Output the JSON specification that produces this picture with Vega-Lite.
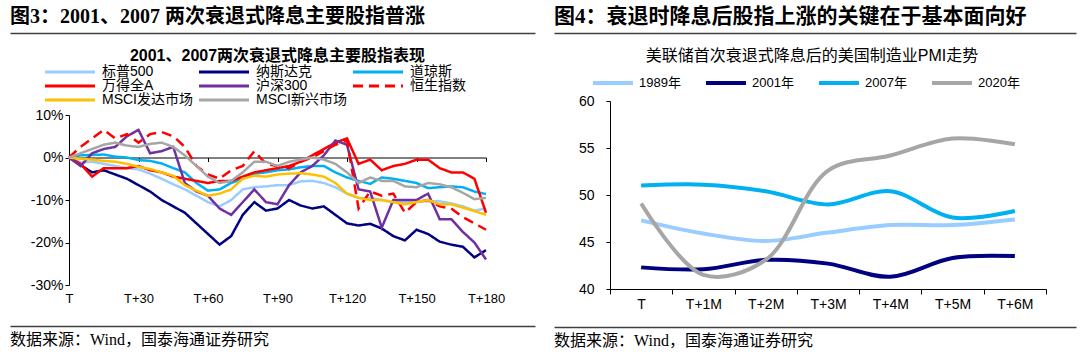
{
  "$schema": "https://vega.github.io/schema/vega-lite/v6.json",
  "background": "white",
  "padding": {"left": 10, "top": 6, "right": 0, "bottom": 0},
  "config": {
    "view": {"stroke": null},
    "font": "Liberation Sans, Noto Sans CJK SC",
    "axis": {"labelFont": "Liberation Sans, Noto Sans CJK SC", "labelColor": "#000", "domainColor": "#000", "tickColor": "#000", "grid": false},
    "legend": {"labelFont": "Liberation Sans, Noto Sans CJK SC", "labelColor": "#000"},
    "title": {"color": "#000"}
  },
  "datasets": {
    "one": [{"v": 0}],
    "stocks": [
      {"d":0,"标普500":0,"纳斯达克":0,"道琼斯":0,"万得全A":0,"沪深300":0,"恒生指数":0,"MSCI发达市场":0,"MSCI新兴市场":0},
      {"d":5,"标普500":-1.2,"纳斯达克":-1.8,"道琼斯":0.5,"万得全A":-1.5,"沪深300":-2.0,"恒生指数":2.5,"MSCI发达市场":-0.3,"MSCI新兴市场":1.0},
      {"d":10,"标普500":-1.0,"纳斯达克":-3.5,"道琼斯":0.6,"万得全A":-4.5,"沪深300":1.0,"恒生指数":4.5,"MSCI发达市场":-0.5,"MSCI新兴市场":2.0},
      {"d":15,"标普500":-1.5,"纳斯达克":-3.0,"道琼斯":0.7,"万得全A":-2.5,"沪深300":2.0,"恒生指数":6.5,"MSCI发达市场":-0.8,"MSCI新兴市场":3.0},
      {"d":20,"标普500":-2.0,"纳斯达克":-4.0,"道琼斯":0.2,"万得全A":-2.5,"沪深300":2.5,"恒生指数":4.5,"MSCI发达市场":-1.0,"MSCI新兴市场":3.5},
      {"d":25,"标普500":-2.5,"纳斯达克":-5.0,"道琼斯":0.0,"万得全A":-2.5,"沪深300":5.0,"恒生指数":5.5,"MSCI发达市场":-1.5,"MSCI新兴市场":2.8},
      {"d":30,"标普500":-2.8,"纳斯达克":-6.5,"道琼斯":-0.6,"万得全A":-2.0,"沪深300":6.5,"恒生指数":3.5,"MSCI发达市场":-2.2,"MSCI新兴市场":2.5},
      {"d":35,"标普500":-3.8,"纳斯达克":-8.0,"道琼斯":-0.8,"万得全A":-3.0,"沪深300":1.0,"恒生指数":5.5,"MSCI发达市场":-2.7,"MSCI新兴市场":3.2},
      {"d":40,"标普500":-5.0,"纳斯达克":-10.0,"道琼斯":-1.4,"万得全A":-3.5,"沪深300":1.5,"恒生指数":6.0,"MSCI发达市场":-3.5,"MSCI新兴市场":3.5},
      {"d":45,"标普500":-6.3,"纳斯达克":-11.5,"道琼斯":-2.5,"万得全A":-4.5,"沪深300":2.5,"恒生指数":5.0,"MSCI发达市场":-4.3,"MSCI新兴市场":2.5},
      {"d":50,"标普500":-7.5,"纳斯达克":-13.0,"道琼斯":-3.5,"万得全A":-5.0,"沪深300":-6.0,"恒生指数":2.5,"MSCI发达市场":-6.5,"MSCI新兴市场":0.5},
      {"d":55,"标普500":-9.0,"纳斯达克":-15.5,"道琼斯":-6.0,"万得全A":-5.5,"沪深300":-8.0,"恒生指数":-2.0,"MSCI发达市场":-7.8,"MSCI新兴市场":-2.0},
      {"d":60,"标普500":-10.5,"纳斯达克":-18.0,"道琼斯":-7.8,"万得全A":-6.0,"沪深300":-9.0,"恒生指数":-4.0,"MSCI发达市场":-9.0,"MSCI新兴市场":-4.5},
      {"d":65,"标普500":-11.5,"纳斯达克":-20.5,"道琼斯":-7.5,"万得全A":-5.5,"沪深300":-12.0,"恒生指数":-5.0,"MSCI发达市场":-8.5,"MSCI新兴市场":-6.0},
      {"d":70,"标普500":-10.0,"纳斯达克":-18.5,"道琼斯":-6.0,"万得全A":-5.5,"沪深300":-13.5,"恒生指数":-3.0,"MSCI发达市场":-7.5,"MSCI新兴市场":-5.5},
      {"d":75,"标普500":-7.5,"纳斯达克":-13.5,"道琼斯":-5.0,"万得全A":-4.5,"沪深300":-10.5,"恒生指数":-2.0,"MSCI发达市场":-5.0,"MSCI新兴市场":-3.5},
      {"d":80,"标普500":-7.0,"纳斯达克":-10.5,"道琼斯":-3.8,"万得全A":-3.5,"沪深300":-7.5,"恒生指数":1.5,"MSCI发达市场":-4.3,"MSCI新兴市场":-1.0},
      {"d":85,"标普500":-6.8,"纳斯达克":-12.5,"道琼斯":-3.5,"万得全A":-3.0,"沪深300":-10.5,"恒生指数":-1.5,"MSCI发达市场":-4.5,"MSCI新兴市场":-1.0},
      {"d":90,"标普500":-6.5,"纳斯达克":-12.0,"道琼斯":-3.0,"万得全A":-2.5,"沪深300":-11.0,"恒生指数":-2.0,"MSCI发达市场":-4.0,"MSCI新兴市场":-2.0},
      {"d":95,"标普500":-6.5,"纳斯达克":-10.0,"道琼斯":-2.8,"万得全A":-2.0,"沪深300":-6.5,"恒生指数":-2.5,"MSCI发达市场":-3.8,"MSCI新兴市场":-1.0},
      {"d":100,"标普500":-5.6,"纳斯达克":-11.3,"道琼斯":-2.3,"万得全A":-1.0,"沪深300":-3.5,"恒生指数":-1.0,"MSCI发达市场":-3.7,"MSCI新兴市场":-0.5},
      {"d":105,"标普500":-5.5,"纳斯达克":-12.0,"道琼斯":-2.0,"万得全A":0.5,"沪深300":-2.0,"恒生指数":0.0,"MSCI发达市场":-4.0,"MSCI新兴市场":0.0},
      {"d":110,"标普500":-6.0,"纳斯达克":-11.5,"道琼斯":-2.0,"万得全A":2.0,"沪深300":0.5,"恒生指数":1.5,"MSCI发达市场":-4.5,"MSCI新兴市场":-0.5},
      {"d":115,"标普500":-7.0,"纳斯达克":-13.5,"道琼斯":-3.5,"万得全A":3.5,"沪深300":4.0,"恒生指数":3.0,"MSCI发达市场":-6.0,"MSCI新兴市场":-1.5},
      {"d":120,"标普500":-8.5,"纳斯达克":-15.5,"道琼斯":-4.7,"万得全A":4.5,"沪深300":3.0,"恒生指数":4.0,"MSCI发达市场":-8.5,"MSCI新兴市场":-3.5},
      {"d":125,"标普500":-9.5,"纳斯达克":-16.0,"道琼斯":-5.5,"万得全A":-1.5,"沪深300":-7.5,"恒生指数":-12.0,"MSCI发达市场":-9.5,"MSCI新兴市场":-6.0},
      {"d":130,"标普500":-9.5,"纳斯达克":-15.6,"道琼斯":-6.2,"万得全A":-0.5,"沪深300":-8.0,"恒生指数":-8.0,"MSCI发达市场":-10.0,"MSCI新兴市场":-4.7},
      {"d":135,"标普500":-10.0,"纳斯达克":-16.7,"道琼斯":-4.7,"万得全A":-3.0,"沪深300":-16.5,"恒生指数":-9.0,"MSCI发达市场":-10.0,"MSCI新兴市场":-5.5},
      {"d":140,"标普500":-10.5,"纳斯达克":-18.5,"道琼斯":-5.0,"万得全A":-2.0,"沪深300":-10.0,"恒生指数":-8.5,"MSCI发达市场":-10.5,"MSCI新兴市场":-5.5},
      {"d":145,"标普500":-10.5,"纳斯达克":-19.5,"道琼斯":-5.5,"万得全A":-1.5,"沪深300":-10.0,"恒生指数":-13.0,"MSCI发达市场":-11.0,"MSCI新兴市场":-6.8},
      {"d":150,"标普500":-10.3,"纳斯达克":-17.0,"道琼斯":-6.0,"万得全A":-0.5,"沪深300":-10.0,"恒生指数":-10.5,"MSCI发达市场":-10.5,"MSCI新兴市场":-7.0},
      {"d":155,"标普500":-10.3,"纳斯达克":-18.0,"道琼斯":-7.2,"万得全A":-0.5,"沪深300":-8.5,"恒生指数":-10.0,"MSCI发达市场":-10.0,"MSCI新兴市场":-6.0},
      {"d":160,"标普500":-10.3,"纳斯达克":-19.8,"道琼斯":-7.0,"万得全A":-2.5,"沪深300":-14.5,"恒生指数":-11.5,"MSCI发达市场":-11.0,"MSCI新兴市场":-6.3},
      {"d":165,"标普500":-10.8,"纳斯达克":-20.5,"道琼斯":-6.8,"万得全A":-3.5,"沪深300":-14.5,"恒生指数":-12.0,"MSCI发达市场":-11.0,"MSCI新兴市场":-7.0},
      {"d":170,"标普500":-11.5,"纳斯达克":-21.0,"道琼斯":-7.0,"万得全A":-3.5,"沪深300":-17.5,"恒生指数":-14.0,"MSCI发达市场":-11.8,"MSCI新兴市场":-8.3},
      {"d":175,"标普500":-12.5,"纳斯达克":-23.5,"道琼斯":-8.0,"万得全A":-5.0,"沪深300":-20.0,"恒生指数":-15.5,"MSCI发达市场":-12.6,"MSCI新兴市场":-9.8},
      {"d":180,"标普500":-12.0,"纳斯达克":-21.8,"道琼斯":-8.6,"万得全A":-13.0,"沪深300":-24.0,"恒生指数":-17.0,"MSCI发达市场":-13.5,"MSCI新兴市场":-9.5}
    ],
    "pmi": [
      {"t":"T","1989年":47.3,"2001年":42.3,"2007年":51.0,"2020年":49.1},
      {"t":"T+1M","1989年":45.9,"2001年":42.1,"2007年":51.1,"2020年":41.5},
      {"t":"T+2M","1989年":45.1,"2001年":43.1,"2007年":50.4,"2020年":43.1},
      {"t":"T+3M","1989年":46.0,"2001年":42.7,"2007年":49.0,"2020年":52.6},
      {"t":"T+4M","1989年":46.8,"2001年":41.3,"2007年":50.4,"2020年":54.2},
      {"t":"T+5M","1989年":46.8,"2001年":43.3,"2007年":47.6,"2020年":56.0},
      {"t":"T+6M","1989年":47.4,"2001年":43.5,"2007年":48.3,"2020年":55.4}
    ]
  },
  "spacing": -40,
  "resolve": {"scale": {"color": "independent", "strokeDash": "independent", "x": "independent", "y": "independent"}, "legend": {"color": "independent", "strokeDash": "independent"}},
  "hconcat": [
    {
      "spacing": 15,
      "resolve": {"scale": {"x": "independent", "y": "independent", "color": "independent", "strokeDash": "independent"}, "legend": {"color": "independent", "strokeDash": "independent"}},
      "vconcat": [
        {
          "width": 466, "height": 1,
          "data": {"name": "one"},
          "mark": {"type": "rule", "opacity": 0},
          "encoding": {"x": {"field": "v", "type": "quantitative", "scale": {"domain": [0, 1], "range": [-59, 466]}, "axis": {"orient": "bottom", "domain": true, "domainColor": "#404040", "domainWidth": 1.5, "ticks": false, "labels": false, "grid": false, "title": null}}},
          "title": {"text": "图3：2001、2007 两次衰退式降息主要股指普涨", "anchor": "start", "frame": "group", "dx": -59, "fontSize": 20, "fontWeight": "bold", "font": "Liberation Serif, Noto Sans CJK SC", "offset": 5}
        },
        {
          "width": 417, "height": 170,
          "data": {"name": "stocks"},
          "transform": [{"fold": ["标普500","纳斯达克","道琼斯","万得全A","沪深300","恒生指数","MSCI发达市场","MSCI新兴市场"], "as": ["series", "value"]}],
          "title": {"text": "2001、2007两次衰退式降息主要股指表现", "fontSize": 16, "fontWeight": "bold", "anchor": "middle", "offset": 1},
          "mark": {"type": "line", "strokeWidth": 2.5},
          "encoding": {
            "x": {"field": "d", "type": "quantitative", "scale": {"domain": [0, 180], "nice": false},
              "axis": {"values": [0, 30, 60, 90, 120, 150, 180], "labelExpr": "datum.value == 0 ? 'T' : 'T+' + datum.value", "offset": -127.5, "labelPadding": 131, "tickSize": 4, "title": null, "labelFontSize": 13, "labelFlush": false}},
            "y": {"field": "value", "type": "quantitative", "scale": {"domain": [-30, 10], "nice": false},
              "axis": {"values": [-30, -20, -10, 0, 10], "labelExpr": "datum.value + '%'", "title": null, "tickSize": 4, "minExtent": 59, "labelFontSize": 14}},
            "color": {"field": "series", "type": "nominal", "sort": null,
              "scale": {"domain": ["标普500","纳斯达克","道琼斯","万得全A","沪深300","恒生指数","MSCI发达市场","MSCI新兴市场"], "range": ["#99CCFF","#000080","#00B0F0","#FF0000","#7030A0","#FF0000","#FFC000","#A6A6A6"]},
              "legend": {"orient": "none", "legendX": -6, "legendY": -50, "direction": "horizontal", "columns": 3, "title": null, "symbolType": "M-5,0H5", "symbolSize": 100, "symbolStrokeWidth": 3, "labelFontSize": 14, "columnPadding": 0, "rowPadding": 0, "gridAlign": "all", "labelOffset": 25}},
            "strokeDash": {"field": "series", "type": "nominal", "sort": null,
              "scale": {"domain": ["标普500","纳斯达克","道琼斯","万得全A","沪深300","恒生指数","MSCI发达市场","MSCI新兴市场"], "range": [[1,0],[1,0],[1,0],[1,0],[1,0],[10,6],[1,0],[1,0]]}}
          }
        },
        {
          "width": 466, "height": 5,
          "data": {"name": "one"},
          "mark": {"type": "rule", "opacity": 0},
          "encoding": {"x": {"field": "v", "type": "quantitative", "scale": {"domain": [0, 1], "range": [-59, 466]}, "axis": {"orient": "bottom", "domain": true, "domainColor": "#404040", "domainWidth": 1.5, "ticks": false, "labels": false, "grid": false, "title": null}}},
          "title": {"text": "数据来源：Wind，国泰海通证券研究", "orient": "bottom", "anchor": "start", "frame": "group", "dx": -59, "fontSize": 16, "fontWeight": "normal", "font": "Liberation Serif, Noto Sans CJK SC", "offset": 6}
        }
      ]
    },
    {
      "spacing": 15,
      "resolve": {"scale": {"x": "independent", "y": "independent", "color": "independent"}, "legend": {"color": "independent"}},
      "vconcat": [
        {
          "width": 466, "height": 1,
          "data": {"name": "one"},
          "mark": {"type": "rule", "opacity": 0},
          "encoding": {"x": {"field": "v", "type": "quantitative", "scale": {"domain": [0, 1], "range": [-56, 466]}, "axis": {"orient": "bottom", "domain": true, "domainColor": "#404040", "domainWidth": 1.5, "ticks": false, "labels": false, "grid": false, "title": null}}},
          "title": {"text": "图4：衰退时降息后股指上涨的关键在于基本面向好", "anchor": "start", "frame": "group", "dx": -56, "fontSize": 21, "fontWeight": "bold", "font": "Liberation Serif, Noto Sans CJK SC", "offset": 5}
        },
        {
          "width": 436, "height": 188,
          "data": {"name": "pmi"},
          "transform": [{"fold": ["1989年","2001年","2007年","2020年"], "as": ["year", "pmi"]}],
          "title": {"text": "美联储首次衰退式降息后的美国制造业PMI走势", "fontSize": 16, "fontWeight": "normal", "anchor": "middle", "offset": 12, "dx": -16},
          "mark": {"type": "line", "strokeWidth": 4, "interpolate": "catmull-rom"},
          "encoding": {
            "x": {"field": "t", "type": "ordinal", "sort": null, "bandPosition": 0.5,
              "scale": {"type": "band", "paddingInner": 0, "paddingOuter": 0},
              "axis": {"tickBand": "extent", "labelAngle": 0, "tickSize": 5, "labelPadding": 3, "title": null, "labelFontSize": 14}},
            "y": {"field": "pmi", "type": "quantitative", "scale": {"domain": [40, 60], "nice": false, "zero": false},
              "axis": {"values": [40, 45, 50, 55, 60], "title": null, "tickSize": 4, "minExtent": 56, "labelFontSize": 14, "labelPadding": 12}},
            "color": {"field": "year", "type": "nominal", "sort": null,
              "scale": {"domain": ["1989年","2001年","2007年","2020年"], "range": ["#99CCFF","#000080","#00B0F0","#A6A6A6"]},
              "legend": {"orient": "none", "legendX": -4, "legendY": -25, "direction": "horizontal", "columns": 4, "title": null, "symbolType": "M-4,0H4", "symbolSize": 100, "symbolStrokeWidth": 4, "labelFontSize": 13, "columnPadding": 17, "gridAlign": "all", "labelOffset": 19}}
          }
        },
        {
          "width": 466, "height": 1,
          "data": {"name": "one"},
          "mark": {"type": "rule", "opacity": 0},
          "encoding": {"x": {"field": "v", "type": "quantitative", "scale": {"domain": [0, 1], "range": [-56, 466]}, "axis": {"orient": "bottom", "domain": true, "domainColor": "#404040", "domainWidth": 1.5, "ticks": false, "labels": false, "grid": false, "title": null}}},
          "title": {"text": "数据来源：Wind，国泰海通证券研究", "orient": "bottom", "anchor": "start", "frame": "group", "dx": -56, "fontSize": 16, "fontWeight": "normal", "font": "Liberation Serif, Noto Sans CJK SC", "offset": 6}
        }
      ]
    }
  ]
}
